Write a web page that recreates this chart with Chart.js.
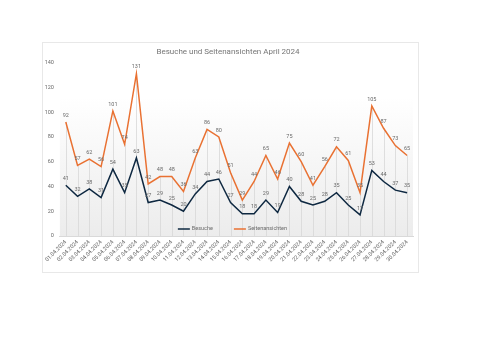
<!DOCTYPE html>
<html>
<head>
<meta charset="utf-8">
<script src="https://cdn.jsdelivr.net/npm/chart.js@4"></script>
<style>
  html, body { margin: 0; padding: 0; background: #fff; }
  body { width: 500px; height: 353px; position: relative; }
  #box { position: absolute; left: 42px; top: 42px; width: 375px; height: 229px; border: 1px solid #e8e8e8; background: #fff; }
  #grafico { display: block; }
</style>
</head>
<body>
<div id="box"><canvas id="grafico" width="375" height="229"></canvas></div>
<script>
// Daten
const tage = [
  "01.04.2024","02.04.2024","03.04.2024","04.04.2024","05.04.2024","06.04.2024",
  "07.04.2024","08.04.2024","09.04.2024","10.04.2024","11.04.2024","12.04.2024",
  "13.04.2024","14.04.2024","15.04.2024","16.04.2024","17.04.2024","18.04.2024",
  "19.04.2024","20.04.2024","21.04.2024","22.04.2024","23.04.2024","24.04.2024",
  "25.04.2024","26.04.2024","27.04.2024","28.04.2024","29.04.2024","30.04.2024"
];
const besuche = [41,32,38,31,54,35,63,27,29,25,20,34,44,46,27,18,18,29,19,40,28,25,28,35,25,17,53,44,37,35];
const seitenansichten = [92,57,62,56,101,74,131,42,48,48,36,63,86,80,51,29,44,65,46,75,60,41,56,72,61,35,105,87,73,65];
const yTicks = [0,20,40,60,80,100,120,140];

const schrift = "Roboto, 'Liberation Sans', sans-serif";

// Hintergrund + Lotlinien
const hintergrund = {
  id: "hintergrund",
  beforeDatasetsDraw(chart) {
    const { ctx, chartArea: a, scales } = chart;
    const g = ctx.createLinearGradient(0, a.top, 0, a.bottom);
    g.addColorStop(0, "#ffffff");
    g.addColorStop(0.2, "#ffffff");
    g.addColorStop(1, "#ececec");
    ctx.save();
    ctx.fillStyle = g;
    ctx.fillRect(a.left, a.top, a.right - a.left, a.bottom - a.top);
    ctx.strokeStyle = "#d6d6d6";
    ctx.lineWidth = 0.75;
    tage.forEach((t, i) => {
      const x = scales.x.getPixelForValue(i);
      const y = scales.y.getPixelForValue(Math.max(besuche[i], seitenansichten[i]));
      ctx.beginPath();
      ctx.moveTo(Math.round(x) + 0.5, y);
      ctx.lineTo(Math.round(x) + 0.5, a.bottom);
      ctx.stroke();
    });
    ctx.restore();
  },
};

// Datenbeschriftungen + Legende
const beschriftung = {
  id: "beschriftung",
  afterDatasetsDraw(chart) {
    const { ctx, chartArea: a } = chart;
    ctx.save();
    ctx.font = "5.5px " + schrift;
    ctx.fillStyle = "#6a6a6a";
    ctx.textAlign = "center";
    ctx.textBaseline = "bottom";
    chart.data.datasets.forEach((ds, d) => {
      chart.getDatasetMeta(d).data.forEach((pt, i) => {
        ctx.fillText(ds.data[i], pt.x, pt.y - 4);
      });
    });

    // Legende im Diagrammbereich
    ctx.font = "5.5px " + schrift;
    ctx.textAlign = "left";
    ctx.textBaseline = "middle";
    const linie = 12, abstand = 2, luecke = 21;
    const breiten = chart.data.datasets.map((ds) => linie + abstand + ctx.measureText(ds.label).width);
    const gesamt = breiten.reduce((s, w) => s + w, 0) + luecke;
    let x = (a.left + a.right) / 2 - gesamt / 2 - 4;
    const y = a.bottom - 7;
    chart.data.datasets.forEach((ds, d) => {
      ctx.strokeStyle = ds.borderColor;
      ctx.lineWidth = 1.5;
      ctx.beginPath();
      ctx.moveTo(x, y);
      ctx.lineTo(x + linie, y);
      ctx.stroke();
      ctx.fillStyle = "#6a6a6a";
      ctx.fillText(ds.label, x + linie + abstand, y);
      x += breiten[d] + luecke;
    });
    ctx.restore();
  },
};

const ctx = document.getElementById("grafico").getContext("2d");
new Chart(ctx, {
  type: "line",
  data: {
    labels: tage,
    datasets: [
      {
        label: "Besuche",
        data: besuche,
        borderColor: "#0e2841",
        borderWidth: 1.5,
        pointRadius: 0,
        tension: 0,
        fill: false,
      },
      {
        label: "Seitenansichten",
        data: seitenansichten,
        borderColor: "#e97132",
        borderWidth: 1.5,
        pointRadius: 0,
        tension: 0,
        fill: false,
      },
    ],
  },
  options: {
    responsive: false,
    animation: false,
    devicePixelRatio: 1,
    layout: { padding: { top: 0, right: 5, bottom: 8, left: 0 } },
    plugins: {
      legend: { display: false },
      tooltip: { enabled: false },
      title: {
        display: true,
        text: "Besuche und Seitenansichten April 2024",
        color: "#767676",
        font: { family: schrift, size: 8, weight: "normal" },
        padding: { top: 4, bottom: 6 },
      },
    },
    scales: {
      x: {
        offset: true,
        grid: { display: false, drawTicks: false },
        border: { display: true, color: "#d9d9d9", width: 1 },
        ticks: {
          color: "#6a6a6a",
          font: { family: schrift, size: 5.5 },
          minRotation: 45,
          maxRotation: 45,
          autoSkip: false,
          padding: 3,
        },
        afterFit(scale) { scale.height = 28; },
      },
      y: {
        min: 0,
        max: 140,
        afterBuildTicks(scale) { scale.ticks = yTicks.map((v) => ({ value: v })); },
        grid: { display: false, drawTicks: false },
        border: { display: false },
        ticks: {
          color: "#6a6a6a",
          font: { family: schrift, size: 5.5 },
          padding: 6,
        },
        afterFit(scale) { scale.width = 15; },
      },
    },
  },
  plugins: [hintergrund, beschriftung],
});
</script>
</body>
</html>
